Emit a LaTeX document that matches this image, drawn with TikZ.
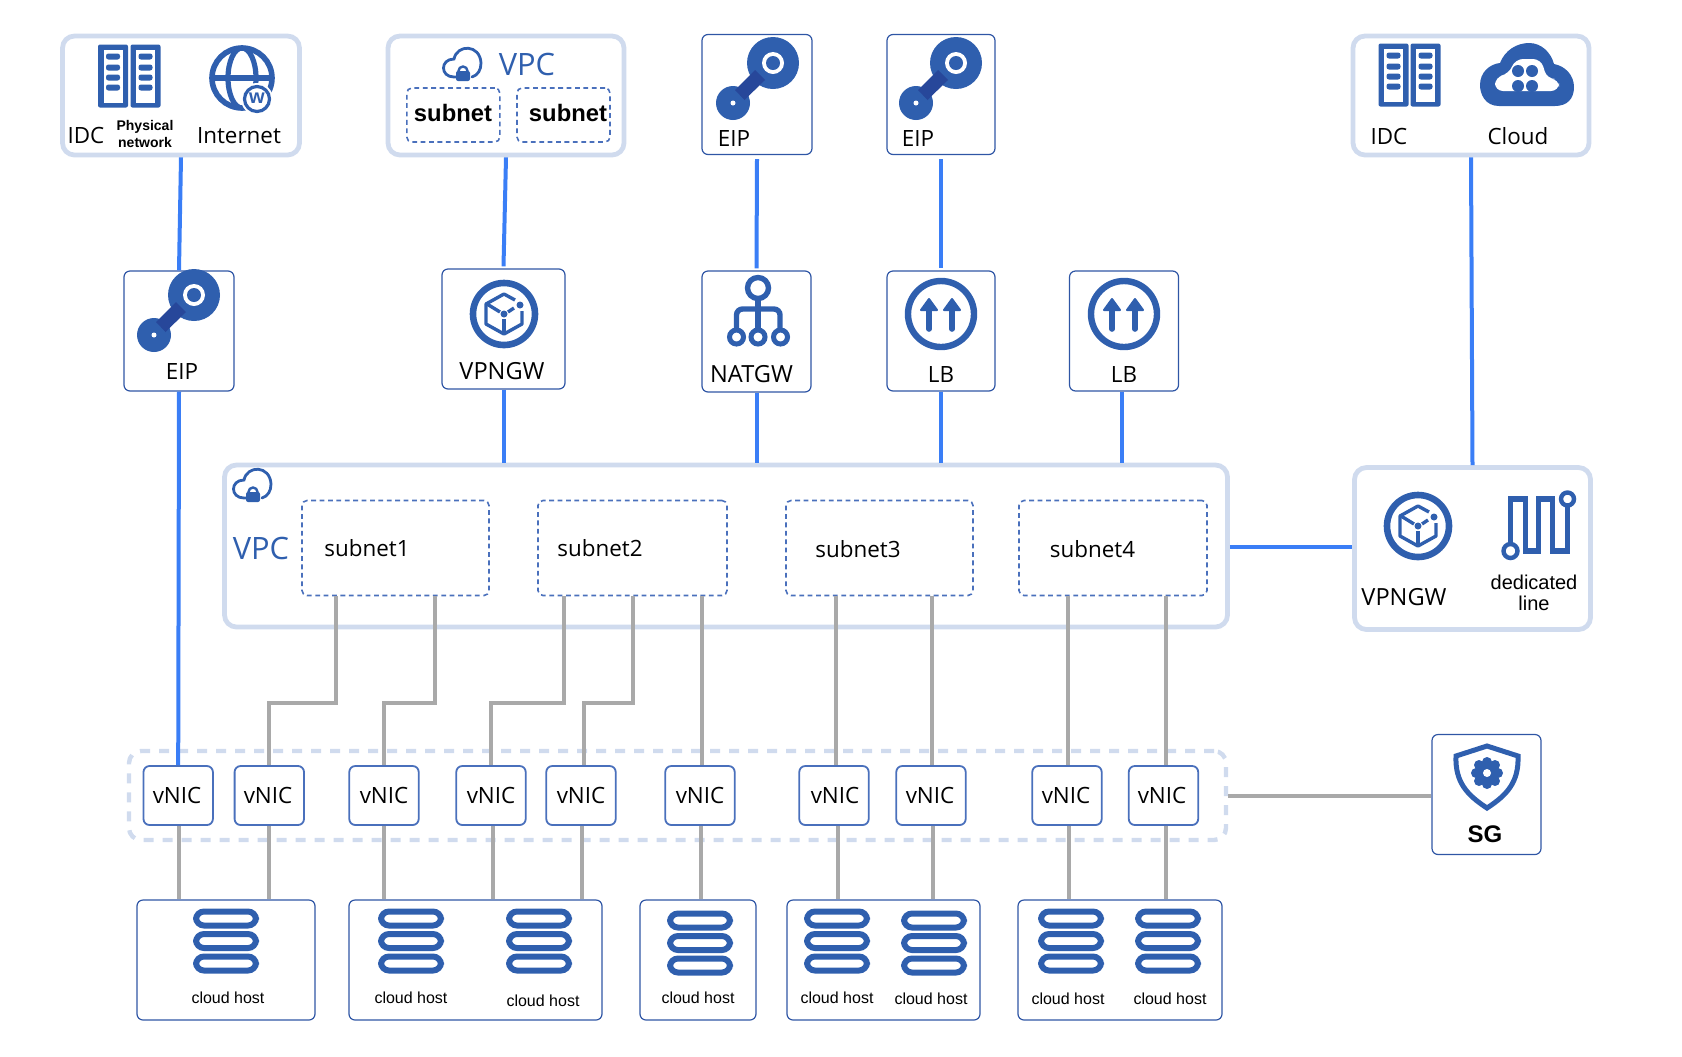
\documentclass[tikz,border=0pt]{standalone}
\usepackage{fontspec}
\setmainfont{Open Sans}
\newfontfamily\arialfont{Liberation Sans}
\definecolor{iconblue}{HTML}{2F5FAE}
\definecolor{bardark}{HTML}{27479A}
\definecolor{framepale}{HTML}{D0DBEE}
\definecolor{tileblue}{HTML}{2F56A5}
\definecolor{nicblue}{HTML}{4A70BC}
\definecolor{linkblue}{HTML}{3A7EF6}
\definecolor{linkgrey}{HTML}{A9A9A9}
\tikzset{
	paneframe/.style={draw=framepale, line width=2.4pt, rounded corners=6pt, inner sep=0pt},
	tilebox/.style={draw=tileblue, line width=0.6pt, rounded corners=3pt, inner sep=0pt},
	nicbox/.style={draw=nicblue, line width=0.9pt, rounded corners=3pt, inner sep=0pt, minimum width=34.7pt, minimum height=29.5pt},
	subnetbox/.style={draw=nicblue, line width=0.8pt, dash pattern=on 2.4pt off 1.8pt, rounded corners=2.5pt, inner sep=0pt},
	lightlabel/.style={font=\fontsize{11.2}{13}\selectfont, inner sep=0pt},
	widelabel/.style={font=\fontsize{11.8}{13}\selectfont, inner sep=0pt},
	bluelabel/.style={font=\fontsize{15.4}{17}\selectfont, text=iconblue, inner sep=0pt},
	hostlabel/.style={font=\arialfont\fontsize{8}{9}\selectfont, inner sep=0pt},
	bluelink/.style={draw=linkblue, line width=2pt},
	greylink/.style={draw=linkgrey, line width=2pt},
	eipicon/.pic={
		\fill [iconblue] (0,0) circle (26);
		\fill [iconblue] (-40,40) circle (17);
		\fill [bardark] (-18,7) -- (-8,17) -- (-28.5,37) -- (-38,27) -- cycle;
		\fill [white] (0,0) circle (11);
		\fill [iconblue] (0,0) circle (7);
		\fill [white] (-40,40) circle (2.5);
	},
	vpngwicon/.pic={
		\draw [iconblue, line width=3.3pt] (0,0) circle (31);
		\draw [iconblue, line width=1.7pt, line join=round] (11,-14) -- (0,-20) -- (-18,-10) -- (-18,10) -- (0,20) -- (18,10) -- (18,-3);
		\draw [iconblue, line width=1.7pt] (-17,-10) -- (-4,-2);
		\draw [iconblue, line width=1.7pt] (0,5) -- (0,18);
		\draw [iconblue, line width=1.7pt] (4,-2) -- (10,-6);
		\fill [iconblue] (0,0) circle (3.5);
		\fill [iconblue] (16,-9) circle (3.5);
	},
	natgwicon/.pic={
		\draw [iconblue, line width=2.7pt] (0,0) circle (10.5);
		\draw [iconblue, line width=2.7pt] (0,11) -- (0,41);
		\draw [iconblue, line width=2.7pt, rounded corners=3pt] (-21.5,42) -- (-21.5,21) -- (22,21) -- (22,42);
		\draw [iconblue, line width=2.5pt] (-21.5,49) circle (7);
		\draw [iconblue, line width=2.5pt] (0,49) circle (7);
		\draw [iconblue, line width=2.5pt] (22.5,49) circle (7);
	},
	lbicon/.pic={
		\draw [iconblue, line width=3.2pt] (0,0) circle (33);
		\draw [iconblue, line width=2.8pt, line cap=round] (-12,-8) -- (-12,15);
		\draw [iconblue, line width=2.8pt, line cap=round] (11,-8) -- (11,15);
		\fill [iconblue, draw=iconblue, line join=round, line width=1pt] (-20,-4) -- (-12,-15) -- (-4,-4) -- cycle;
		\fill [iconblue, draw=iconblue, line join=round, line width=1pt] (3,-4) -- (11,-15) -- (19,-4) -- cycle;
	},
	rackunit/.pic={
		\fill [iconblue, rounded corners=1pt] (-15,-32) rectangle (15,31);
		\fill [white] (-9.5,-27) rectangle (9.5,26);
		\fill [iconblue, rounded corners=1.2pt] (-7,-23) rectangle (7,-17);
		\fill [iconblue, rounded corners=1.2pt] (-7,-12) rectangle (7,-6);
		\fill [iconblue, rounded corners=1.2pt] (-7,-2) rectangle (7,4);
		\fill [iconblue, rounded corners=1.2pt] (-7,8) rectangle (7,14);
	},
	globeicon/.pic={
		\draw [iconblue, line width=2.8pt] (0,0) circle (30);
		\draw [iconblue, line width=2.6pt] (0,0) ellipse (14 and 30);
		\draw [iconblue, line width=2.6pt] (-30,0) -- (30,0);
		\fill [white] (15,21) circle (16);
		\draw [iconblue, line width=1.6pt] (15,21) circle (12.5);
		\node [font=\arialfont\bfseries\fontsize{10}{10}\selectfont, text=iconblue, inner sep=0pt] (wmark) at (15,20.5) {w};
	},
	vpccloud/.pic={
		\draw [iconblue, line width=1.4pt, line cap=round] (-7,14) -- (-9,14) .. controls (-23,14) and (-23,-4) .. (-9,-4) .. controls (-6,-19) and (17,-19) .. (18,0) .. controls (18,7) and (15,12) .. (9,14);
		\draw [iconblue, line width=1.2pt] (0,8) circle (4.5);
		\fill [iconblue, rounded corners=1pt] (-7,8) rectangle (7,18);
	},
	cloudicon/.pic={
		\fill [iconblue] (-28,31) .. controls (-42,31) and (-47,19) .. (-47,10) .. controls (-47,-3) and (-37,-11) .. (-27,-12) .. controls (-22,-25) and (-10,-32) .. (2,-32) .. controls (15,-32) and (24,-22) .. (27,-11) .. controls (38,-9) and (47,0) .. (47,12) .. controls (47,24) and (40,31) .. (28,31) -- cycle;
		\fill [white, rounded corners=4pt] (-32,16) -- (-32,2) -- (-18,-1) -- (-12,-16) -- (14,-16) -- (20,4) -- (32,4) -- (32,16) -- cycle;
		\fill [iconblue] (-9,-4) circle (6);
		\fill [iconblue] (5,-4) circle (6);
		\fill [iconblue] (-9,11) circle (6);
		\fill [iconblue] (5,11) circle (6);
	},
	dedicatedicon/.pic={
		\draw [iconblue, line width=2.8pt, line join=miter] (8,51) -- (8,8) -- (23,8) -- (23,60) -- (36,60) -- (36,8) -- (50,8) -- (50,60) -- (65,60) -- (65,12);
		\draw [iconblue, line width=2.2pt, fill=white] (8,60) circle (7);
		\draw [iconblue, line width=2.2pt, fill=white] (65,8) circle (6.5);
	},
	hosticon/.pic={
		\draw [iconblue, line width=3pt, rounded corners=4pt] (-30,2.5) rectangle (30,16.5);
		\draw [iconblue, line width=3pt, rounded corners=4pt] (-30,25) rectangle (30,39);
		\draw [iconblue, line width=3pt, rounded corners=4pt] (-30,47.5) rectangle (30,61.5);
	},
	shieldicon/.pic={
		\draw [iconblue, line width=2.5pt, line join=miter] (0,-31) -- (31,-21) .. controls (32,5) and (20,18) .. (0,31) .. controls (-20,18) and (-32,5) .. (-31,-21) -- cycle;
		\fill [iconblue] (0,-4) circle (9);
		\fill [iconblue] (0,-15) circle (5);
		\fill [iconblue] (0,7) circle (5);
		\fill [iconblue] (-11,-4) circle (5);
		\fill [iconblue] (11,-4) circle (5);
		\fill [iconblue] (-8,-12) circle (5);
		\fill [iconblue] (8,-12) circle (5);
		\fill [iconblue] (-8,4) circle (5);
		\fill [iconblue] (8,4) circle (5);
		\fill [white] (0,-4) circle (4);
	}
}
\begin{document}
\begin{tikzpicture}[x=0.5pt, y=-0.5pt]
	\useasboundingbox (0,0) rectangle (1682,1056);

	\node [paneframe, minimum width=118.5pt, minimum height=59.5pt] (idcpane) at (181,95.5) {};
	\node [paneframe, minimum width=118pt, minimum height=59.5pt] (vpcpane) at (506,95.5) {};
	\node [paneframe, minimum width=118pt, minimum height=59.5pt] (cloudpane) at (1471,95.5) {};
	\node [paneframe, minimum width=501.5pt, minimum height=81pt] (vpcmain) at (726,546) {};
	\node [paneframe, minimum width=118pt, minimum height=81pt] (gatepane) at (1472.5,548.5) {};
	\node [tilebox, minimum width=55pt, minimum height=60pt] (eipone) at (757,94.5) {};
	\node [tilebox, minimum width=54pt, minimum height=60pt] (eiptwo) at (941,94.5) {};
	\node [tilebox, minimum width=55pt, minimum height=60pt] (eipleft) at (179,331) {};
	\node [tilebox, minimum width=61.5pt, minimum height=60pt] (vpngwbox) at (503.5,329) {};
	\node [tilebox, minimum width=54.5pt, minimum height=60.5pt] (natbox) at (756.5,331.5) {};
	\node [tilebox, minimum width=54pt, minimum height=60pt] (lbone) at (941,331) {};
	\node [tilebox, minimum width=54.5pt, minimum height=60pt] (lbtwo) at (1124,331) {};
	\node [tilebox, minimum width=54.5pt, minimum height=60pt] (sgbox) at (1486.5,794.5) {};

	\node [subnetbox, minimum width=46.5pt, minimum height=27pt] (subleft) at (453.3,115) {};
	\node [subnetbox, minimum width=46.5pt, minimum height=27pt] (subright) at (563.5,115) {};
	\node [subnetbox, minimum width=93.5pt, minimum height=47.5pt] (subneta) at (395.5,548) {};
	\node [subnetbox, minimum width=94.5pt, minimum height=47.5pt] (subnetb) at (632.5,548) {};
	\node [subnetbox, minimum width=93.5pt, minimum height=47.5pt] (subnetc) at (879.5,548) {};
	\node [subnetbox, minimum width=94pt, minimum height=47.5pt] (subnetd) at (1113,548) {};

	\node [draw=framepale, line width=2.2pt, dash pattern=on 5pt off 4.5pt, rounded corners=6pt, inner sep=0pt, minimum width=548.5pt, minimum height=44.5pt] (nicgroup) at (677.5,795.5) {};

	\node [nicbox] (nica) at (178.2,795.5) {};
	\node [nicbox] (nicb) at (269.3,795.5) {};
	\node [nicbox] (nicc) at (384,795.5) {};
	\node [nicbox] (nicd) at (491,795.5) {};
	\node [nicbox] (nice) at (581,795.5) {};
	\node [nicbox] (nicf) at (700,795.5) {};
	\node [nicbox] (nicg) at (834,795.5) {};
	\node [nicbox] (nich) at (931,795.5) {};
	\node [nicbox] (nici) at (1067,795.5) {};
	\node [nicbox] (nicj) at (1163.5,795.5) {};

	\node [tilebox, minimum width=89pt, minimum height=60pt] (hosta) at (226,960) {};
	\node [tilebox, minimum width=126.5pt, minimum height=60pt] (hostb) at (475.5,960) {};
	\node [tilebox, minimum width=58pt, minimum height=60pt] (hostc) at (698,960) {};
	\node [tilebox, minimum width=96.5pt, minimum height=60pt] (hostd) at (883.5,960) {};
	\node [tilebox, minimum width=102pt, minimum height=60pt] (hoste) at (1120,960) {};

	\draw [bluelink] (idcpane.south) -- (eipleft.north);
	\draw [bluelink] (vpcpane.south) -- ([yshift=1pt]vpngwbox.north);
	\draw [bluelink] ([yshift=-2pt]eipone.south) -- ([yshift=1pt]natbox.north);
	\draw [bluelink] ([yshift=-2pt]eiptwo.south) -- ([yshift=1pt]lbone.north);
	\draw [bluelink] (cloudpane.south) -- (gatepane.north);
	\draw [bluelink] (eipleft.south) -- (nica.north);
	\draw [bluelink] (vpngwbox.south) -- (vpngwbox.south |- vpcmain.north);
	\draw [bluelink] (natbox.south) -- (natbox.south |- vpcmain.north);
	\draw [bluelink] (lbone.south) -- (lbone.south |- vpcmain.north);
	\draw [bluelink] ([xshift=-1pt]lbtwo.south) -- ([xshift=-1pt]lbtwo.south |- vpcmain.north);
	\draw [bluelink] ([yshift=-0.5pt]vpcmain.east) -- ([yshift=-0.5pt]vpcmain.east -| gatepane.west);

	\draw [greylink] ([xshift=-29.7pt]subneta.south) -- ++(0,107) -| (nicb.north);
	\draw [greylink] ([xshift=19.7pt]subneta.south) -- ++(0,107) -| (nicc.north);
	\draw [greylink] ([xshift=-34.2pt]subnetb.south) -- ++(0,107) -| (nicd.north);
	\draw [greylink] ([xshift=0pt]subnetb.south) -- ++(0,107) -| ([xshift=1.5pt]nice.north);
	\draw [greylink] ([xshift=1pt]nicf.north) -- ([xshift=1pt]nicf.north |- subnetb.south);
	\draw [greylink] ([xshift=1pt]nicg.north) -- ([xshift=1pt]nicg.north |- subnetc.south);
	\draw [greylink] ([xshift=0.5pt]nich.north) -- ([xshift=0.5pt]nich.north |- subnetc.south);
	\draw [greylink] ([xshift=0.5pt]nici.north) -- ([xshift=0.5pt]nici.north |- subnetd.south);
	\draw [greylink] ([xshift=1pt]nicj.north) -- ([xshift=1pt]nicj.north |- subnetd.south);
	\draw [greylink] ([xshift=0.5pt]nica.south) -- ([xshift=0.5pt]nica.south |- hosta.north);
	\draw [greylink] (nicb.south) -- (nicb.south |- hosta.north);
	\draw [greylink] (nicc.south) -- (nicc.south |- hostb.north);
	\draw [greylink] ([xshift=1pt]nicd.south) -- ([xshift=1pt]nicd.south |- hostb.north);
	\draw [greylink] ([xshift=0.5pt]nice.south) -- ([xshift=0.5pt]nice.south |- hostb.north);
	\draw [greylink] ([xshift=0.5pt]nicf.south) -- ([xshift=0.5pt]nicf.south |- hostc.north);
	\draw [greylink] ([xshift=2pt]nicg.south) -- ([xshift=2pt]nicg.south |- hostd.north);
	\draw [greylink] ([xshift=1pt]nich.south) -- ([xshift=1pt]nich.south |- hostd.north);
	\draw [greylink] ([xshift=1pt]nici.south) -- ([xshift=1pt]nici.south |- hoste.north);
	\draw [greylink] ([xshift=1pt]nicj.south) -- ([xshift=1pt]nicj.south |- hoste.north);
	\draw [greylink] (nicgroup.east) -- (nicgroup.east -| sgbox.west);

	\pic at (773,63) {eipicon};
	\pic at (956,63) {eipicon};
	\pic at (194,295) {eipicon};
	\pic at (504,314) {vpngwicon};
	\pic at (1418,526) {vpngwicon};
	\pic at (758,288) {natgwicon};
	\pic at (941,314) {lbicon};
	\pic at (1124,314) {lbicon};
	\pic at (113,76.5) {rackunit};
	\pic at (145.5,76.5) {rackunit};
	\pic at (1393.5,75.5) {rackunit};
	\pic at (1425.5,75.5) {rackunit};
	\pic at (242,78) {globeicon};
	\pic at (463,63) {vpccloud};
	\pic at (253,484) {vpccloud};
	\pic at (1527,75) {cloudicon};
	\pic at (1502.5,491) {dedicatedicon};
	\pic at (1487,777) {shieldicon};
	\pic at (226,909) {hosticon};
	\pic at (411,909) {hosticon};
	\pic at (539,909) {hosticon};
	\pic at (700,911) {hosticon};
	\pic at (837,909) {hosticon};
	\pic at (934,911) {hosticon};
	\pic at (1071,909) {hosticon};
	\pic at (1168,909) {hosticon};

	\node [lightlabel] (idcleft) at (86,135) {IDC};
	\node [font=\arialfont\bfseries\fontsize{7}{8.5}\selectfont, align=center, inner sep=0pt] (physnet) at (145,134) {Physical\\network};
	\node [lightlabel] (internet) at (239,136) {Internet};
	\node [bluelabel] (vpctop) at (527,64) {VPC};
	\node [font=\arialfont\bfseries\fontsize{11.9}{13}\selectfont, inner sep=0pt] (subnetl) at (453,113) {subnet};
	\node [font=\arialfont\bfseries\fontsize{11.9}{13}\selectfont, inner sep=0pt] (subnetr) at (568,113) {subnet};
	\node [lightlabel] (eiponetxt) at (734,138) {EIP};
	\node [lightlabel] (eiptwotxt) at (918,138) {EIP};
	\node [lightlabel] (eiplefttxt) at (182,371) {EIP};
	\node [widelabel] (vpngwtxt) at (502,371) {VPNGW};
	\node [widelabel] (nattxt) at (751.5,374) {NATGW};
	\node [lightlabel] (lbonetxt) at (941,374) {LB};
	\node [lightlabel] (lbtwotxt) at (1124,374) {LB};
	\node [lightlabel] (idcright) at (1389,136) {IDC};
	\node [lightlabel] (cloudtxt) at (1518,136) {Cloud};
	\node [bluelabel] (vpcmaintxt) at (261,548) {VPC};
	\node [lightlabel] (subatxt) at (367,548) {subnet1};
	\node [lightlabel] (subbtxt) at (600,548) {subnet2};
	\node [lightlabel] (subctxt) at (858,549) {subnet3};
	\node [lightlabel] (subdtxt) at (1092.5,549) {subnet4};
	\node [widelabel] (gatetxt) at (1404,597) {VPNGW};
	\node [font=\arialfont\fontsize{10}{10.4}\selectfont, align=center, inner sep=0pt] (dedictxt) at (1534,593) {dedicated\\line};
	\node [font=\arialfont\bfseries\fontsize{12}{13}\selectfont, inner sep=0pt] (sgtxt) at (1485,834) {SG};

	\node [lightlabel] (nicatxt) at (177,795) {vNIC};
	\node [lightlabel] (nicbtxt) at (268,795) {vNIC};
	\node [lightlabel] (nicctxt) at (384,795) {vNIC};
	\node [lightlabel] (nicdtxt) at (491,795) {vNIC};
	\node [lightlabel] (nicetxt) at (581,795) {vNIC};
	\node [lightlabel] (nicftxt) at (700,795) {vNIC};
	\node [lightlabel] (nicgtxt) at (835,795) {vNIC};
	\node [lightlabel] (nichtxt) at (930,795) {vNIC};
	\node [lightlabel] (nicitxt) at (1066,795) {vNIC};
	\node [lightlabel] (nicjtxt) at (1162,795) {vNIC};

	\node [hostlabel] (hostonetxt) at (228,998) {cloud host};
	\node [hostlabel] (hosttwotxt) at (411,998) {cloud host};
	\node [hostlabel] (hostthreetxt) at (543,1001) {cloud host};
	\node [hostlabel] (hostfourtxt) at (698,998) {cloud host};
	\node [hostlabel] (hostfivetxt) at (837,998) {cloud host};
	\node [hostlabel] (hostsixtxt) at (931,999) {cloud host};
	\node [hostlabel] (hostseventxt) at (1068,999) {cloud host};
	\node [hostlabel] (hosteighttxt) at (1170,999) {cloud host};
\end{tikzpicture}
\end{document}
